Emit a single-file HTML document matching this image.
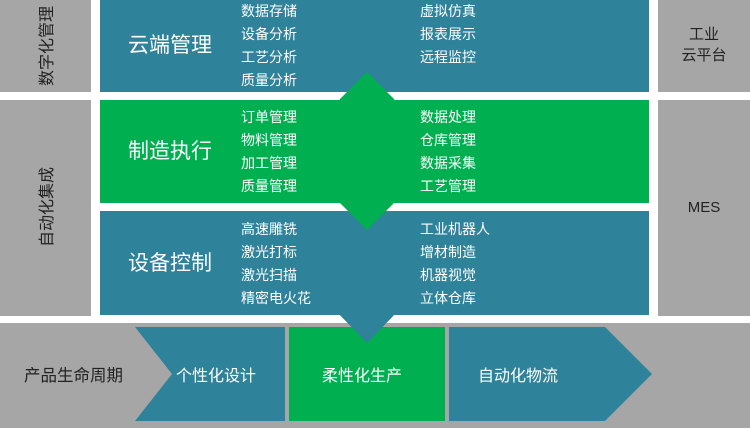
<!DOCTYPE html>
<html><head><meta charset="utf-8"><style>
body{margin:0;width:750px;height:428px;overflow:hidden;background:#fff}
svg text{font-family:"Liberation Sans","Noto Sans CJK SC",sans-serif}
</style></head><body>
<svg width="750" height="428" viewBox="0 0 750 428" xmlns="http://www.w3.org/2000/svg">
<rect x="0" y="0" width="750" height="428" fill="#fff"/>
<rect x="0" y="0" width="91" height="92" fill="#a6a6a6"/>
<rect x="0" y="100" width="91" height="216" fill="#a6a6a6"/>
<rect x="658" y="0" width="92" height="92" fill="#a6a6a6"/>
<rect x="658" y="100" width="92" height="216" fill="#a6a6a6"/>
<rect x="0" y="323" width="750" height="105" fill="#a6a6a6"/>
<rect x="100" y="0" width="549" height="92" fill="#2e8299"/>
<rect x="100" y="100" width="549" height="103" fill="#00b050"/>
<rect x="100" y="211" width="549" height="104" fill="#2e8299"/>
<polygon points="367,72 340,99 340,203 367,230 394,203 394,99" fill="#00b050"/>
<polygon points="340,315 394,315 367,343" fill="#2e8299"/>
<polygon points="135,327 285,327 285,421 135,421 172,374" fill="#2e8299"/>
<rect x="289" y="327" width="156" height="94" fill="#00b050"/>
<polygon points="449,327 605,327 652,374 605,421 449,421" fill="#2e8299"/>
<polygon points="340,315 394,315 367,343" fill="#2e8299"/>
<text transform="translate(52,46) rotate(-90)" text-anchor="middle" font-size="16" fill="#222">数字化管理</text>
<text transform="translate(52,207) rotate(-90)" text-anchor="middle" font-size="16" fill="#222">自动化集成</text>
<text x="704" y="39" text-anchor="middle" font-size="15" fill="#222">工业</text>
<text x="704" y="60" text-anchor="middle" font-size="15" fill="#222">云平台</text>
<text x="704" y="212" text-anchor="middle" font-size="15" fill="#222">MES</text>
<g fill="#fff" font-size="21">
<text x="128" y="52">云端管理</text>
<text x="128" y="158">制造执行</text>
<text x="128" y="270">设备控制</text>
</g>
<g fill="#fff" font-size="14">
<text x="241" y="16">数据存储</text><text x="241" y="39">设备分析</text><text x="241" y="62">工艺分析</text><text x="241" y="85">质量分析</text>
<text x="420" y="16">虚拟仿真</text><text x="420" y="39">报表展示</text><text x="420" y="62">远程监控</text>
<text x="241" y="122">订单管理</text><text x="241" y="145">物料管理</text><text x="241" y="168">加工管理</text><text x="241" y="191">质量管理</text>
<text x="420" y="122">数据处理</text><text x="420" y="145">仓库管理</text><text x="420" y="168">数据采集</text><text x="420" y="191">工艺管理</text>
<text x="241" y="234">高速雕铣</text><text x="241" y="257">激光打标</text><text x="241" y="280">激光扫描</text><text x="241" y="303">精密电火花</text>
<text x="420" y="234">工业机器人</text><text x="420" y="257">增材制造</text><text x="420" y="280">机器视觉</text><text x="420" y="303">立体仓库</text>
</g>
<text x="24" y="381" font-size="16.5" fill="#222">产品生命周期</text>
<g fill="#fff" font-size="16">
<text x="176" y="381">个性化设计</text>
<text x="322" y="381">柔性化生产</text>
<text x="478" y="381">自动化物流</text>
</g>
</svg>
</body></html>
